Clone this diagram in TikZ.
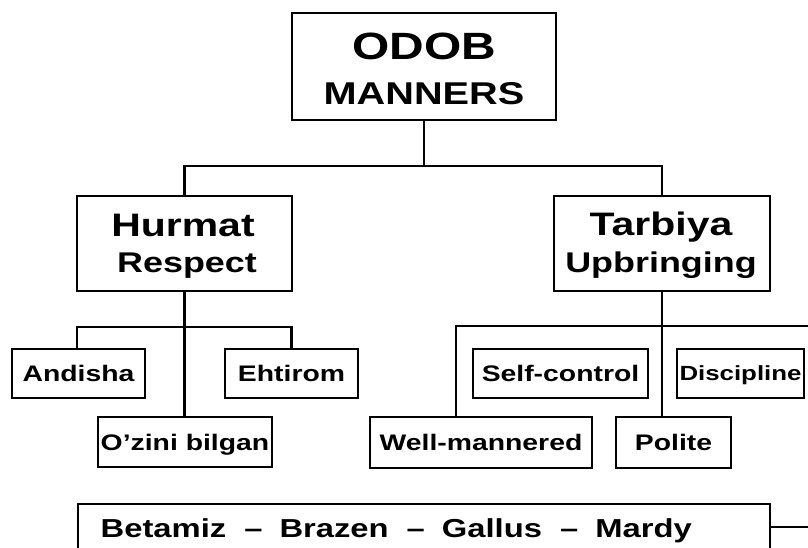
\documentclass[tikz,border=0pt]{standalone}
\usepackage{fontspec}
\newfontfamily\dfont{Liberation Sans}[FakeStretch=1.26]
\begin{document}
\begin{tikzpicture}[x=1pt,y=-1pt,
  boxs/.style={draw=black, line width=2.3pt, inner sep=0pt, fill=white},
  small/.style={boxs, minimum height=49pt, font=\dfont\bfseries\fontsize{22.5}{22}\selectfont, text height=16pt, text depth=0pt},
  lbl/.style={anchor=base, inner sep=0pt},
  conn/.style={draw=black, line width=2.2pt}]
\clip (0,0) rectangle (808,547);
\fill[white] (0,0) rectangle (808,547);
% main boxes
\node[boxs, minimum width=264pt, minimum height=107pt] (top) at (424,66.5) {};
\node[boxs, minimum width=215pt, minimum height=95pt] (hurmat) at (184.5,243.5) {};
\node[boxs, minimum width=216pt, minimum height=95pt] (tarbiya) at (662,243.5) {};
\node[lbl, font=\dfont\bfseries\fontsize{38}{38}\selectfont] (odob) at (424,59) {ODOB};
\node[lbl, font=\dfont\bfseries\fontsize{31.5}{31}\selectfont] (manners) at (424,104) {MANNERS};
\node[lbl, font=\dfont\bfseries\fontsize{32.5}{32}\selectfont] (hurmatT) at (183,236) {Hurmat};
\node[lbl, font=\dfont\bfseries\fontsize{28.5}{28}\selectfont] (respectT) at (187,272) {Respect};
\node[lbl, font=\dfont\bfseries\fontsize{32.5}{32}\selectfont] (tarbiyaT) at (661,235) {Tarbiya};
\node[lbl, font=\dfont\bfseries\fontsize{28.5}{28}\selectfont] (upT) at (661,272) {Upbringing};
% small boxes
\node[small, minimum width=133pt] (andisha) at (78.5,373.5) {Andisha};
\node[small, minimum width=133pt] (ehtirom) at (291.5,373.5) {Ehtirom};
\node[small, minimum width=174pt, minimum height=50pt] (ozini) at (185,442) {O’zini bilgan};
\node[small, minimum width=175pt] (self) at (560.5,373.5) {Self-control};
\node[small, minimum width=127pt, font=\dfont\bfseries\fontsize{20.5}{20}\selectfont, text height=14.6pt] (disc) at (740.5,373.5) {Discipline};
\node[small, minimum width=222pt, minimum height=51pt] (well) at (481,442.5) {Well-mannered};
\node[small, minimum width=115pt, minimum height=51pt] (polite) at (673.5,442.5) {Polite};
% bottom box
\node[boxs, minimum width=692pt, minimum height=80pt, anchor=north west] (bottom) at (77,503) {};
\node[lbl, anchor=base west, font=\dfont\bfseries\fontsize{26}{26}\selectfont] (btext) at (100.5,537)
  {Betamiz\hspace{18pt}–\hspace{17pt}Brazen\hspace{18pt}–\hspace{17pt}Gallus\hspace{18pt}–\hspace{17pt}Mardy};
\coordinate (hl) at (77,327);
\coordinate (tl) at (456,326);
\coordinate (rEnd) at (812,326);
\coordinate (bEnd) at (812,527);
% connectors
\draw[conn] (top.south) -- ++(0,45) coordinate (tj);
\draw[conn] (hurmat.north) |- (tj) -| (tarbiya.north);
\draw[conn] (hurmat.south) -- (hurmat.south |- ozini.north);
\draw[conn] (hl |- andisha.north) -- (hl) -- (hl -| ehtirom.north) -- (ehtirom.north);
\draw[conn] (tarbiya.south) -- (tarbiya.south |- polite.north);
\draw[conn] (tl |- well.north) -- (tl) -- (rEnd);
\draw[conn] (bottom.north east |- bEnd) -- (bEnd);
\end{tikzpicture}
\end{document}
